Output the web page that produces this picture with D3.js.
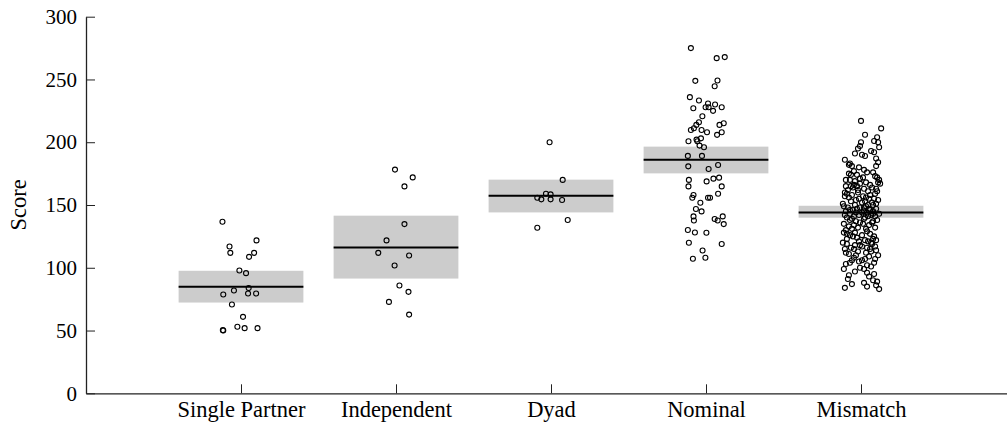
<!DOCTYPE html>
<html>
<head>
<meta charset="utf-8">
<script src="https://cdn.jsdelivr.net/npm/d3@7"></script>
<style>
  html, body { margin: 0; padding: 0; background: #fff; }
  svg { display: block; }
</style>
</head>
<body>
<svg id="chart" width="1007" height="430"></svg>
<script>
// ---------------- data ----------------
const categories = ["Single Partner", "Independent", "Dyad", "Nominal", "Mismatch"];
const yTicks = [0, 50, 100, 150, 200, 250, 300];
const yLabel = "Score";

const means  = [84.8, 116.2, 157.4, 186.1, 144.1];
const ciLow  = [72.3, 91.4, 144.1, 175.2, 139.9];
const ciHigh = [97.6, 141.5, 170.2, 196.5, 149.4];

// points: [score, horizontal jitter fraction (-1..1)]
const singlePartnerPoints = [
  [136.7,-0.92],[121.8,0.77],[117,-0.57],[111.9,-0.53],[111.9,0.65],[108.7,0.4],
  [97.8,-0.08],[95.7,0.25],[83.8,0.38],[81.9,-0.35],[78.7,-0.88],[79.5,0.35],
  [79.5,0.75],[70.7,-0.45],[60.9,0.1],[53,-0.18],[51.9,0.18],[51.9,0.82],
  [50,-0.88],[50.3,-0.9]
];
const independentPoints = [
  [178.2,-0.05],[172,0.83],[164.8,0.42],[134.8,0.42],[121.8,-0.47],[111.9,-0.88],
  [109.8,0.65],[101.8,-0.07],[85.9,0.17],[80.8,0.62],[72.8,-0.35],[62.7,0.65]
];
const dyadPoints = [
  [200,-0.07],[170,0.58],[159,-0.25],[158.5,-0.02],[155.8,-0.68],[154.5,-0.48],
  [154.5,-0.02],[154,0.55],[138,0.83],[131.9,-0.68]
];
const nominalPoints = [
  [275,-0.75],[267,0.53],[267.8,0.93],[248.9,-0.53],[249.2,0.57],[244.6,0.43],[235.9,-0.8],[233.2,-0.35],[230.8,0.1],[230,0.45],
  [227.1,-0.63],[227.9,-0.02],[227.9,0.13],[225,0.35],[227.9,0.78],[220.7,-0.18],[215.9,-0.35],[213.8,-0.48],[211.1,-0.6],[209.8,-0.75],
  [209.8,-0.22],[207.9,0.05],[213.8,0.67],[215.1,0.88],[207.9,0.78],[205.9,0.55],[200.8,-0.87],[202.1,-0.47],[203.1,-0.25],[200.8,-0.43],
  [197.3,-0.32],[196,-0.1],[189.1,-0.9],[189.1,-0.2],[180.8,-0.88],[181.9,0.6],[178.7,0.13],[170,-0.85],[164.8,-0.87],[168.8,0.03],
  [171,0.37],[171.8,0.65],[164.8,0.78],[158,-0.62],[155.8,-0.68],[159,0.6],[155.8,0.1],[155.8,0.2],[151.8,-0.28],[146.8,-0.5],
  [144.9,-0.22],[140.9,-0.62],[137.7,-0.6],[138.8,0.43],[137.7,0.58],[140.9,0.83],[134.8,0.88],[130.1,-0.9],[128.1,-0.55],[127.9,0.02],
  [119.9,-0.85],[118.9,0.78],[113.8,-0.17],[107.2,-0.65],[108,-0.03]
];
const mismatchPoints = [
  [217,0],[211,1],[206,0.2],[204,0.8],[201,0.65],[200,0.85],[200,0],
  [197,-0.05],[196,0.9],[195,-0.15],[193,0.5],[192,0.65],[191,-0.3],[190,0.05],[189,0.2],
  [187,0.75],[186,-0.8],[184,0.85],[183,-0.55],[182,-0.6],[181,-0.45],[180,-0.1],[181,0.75],
  [176,0.3],[175,-0.6],[174,-0.5],[174,-0.2],[173,0.7],[172,0.8],[171,-0.05],[170,-0.55],[170,-0.75],[170,0.9],
  [168,0.85],[167,0.95],[166,-0.35],[165,-0.5],[165,-0.75],[165,-0.2],[164,0.55],[163,0.75],[162,-0.15],[162,-0.65],[161,0.8],[160,-0.8],
  [159,-0.7],[158,0.45],[157,-0.8],[156,0.25],[155,-0.1],[155,0.65],[154,0.85],[153,-0.5],[152,0.55],[152,0.05],[151,-0.9],[150,0.35],[150,-0.3],
  [149,-0.85],[148,-0.65],[148,0.15],[147,0.75],[147,-0.2],[146,0.45],[146,-0.4],[145,0.6],[145,-0.75],[144,0.05],[144,0.3],[143,-0.55],[143,0.9],[142,-0.1],[142,0.5],[141,-0.35],[141,0.7],[140,-0.7],[140,0.2],
  [139,-0.45],[138,0.8],[137,-0.25],[136,-0.05],[136,0.55],[135,-0.85],[134,0.4],[133,-0.6],[132,-0.15],[131,0.25],[130,-0.75],
  [128,-0.85],[127,-0.7],[126,-0.55],[125,0.65],[124,-0.2],[123,0.6],[122,0.2],[121,-0.1],[120,-0.9],[120,0.5],
  [119,-0.7],[118,-0.3],[117,0.05],[117,0.7],[116,-0.5],[115,-0.8],[115,0.45],[114,0.75],[113,-0.15],[112,0.25],[111,-0.6],[110,0.85],
  [108,-0.35],[107,0.2],[106,-0.45],[105,-0.1],[104,0.65],[103,-0.75],[101,0.5],[100,-0.05],
  [99,-0.85],[96,0.3],[94,-0.6],[93,0.4],[91,-0.65],[90,0.6],
  [89,0.8],[88,0.15],[87,-0.45],[86,0.75],[85,0.3],[84,-0.8],[83,0.9],
  [178,0.15],[177,-0.35],[176,0.6],[172,0.1],[169,-0.3],[168,0.25],[167,-0.05],[166,0.45],[164,-0.4],[163,0.15],
  [161,0.35],[160,-0.15],[159,0.7],[158,-0.45],[157,0.1],[156,-0.6],[155,0.4],[154,-0.25],[153,0.2],[151,0.75],
  [150,0.6],[149,0.25],[148,-0.05],[147,0.4],[146,-0.55],[145,0.15],[144,-0.25],[143,0.6],[142,-0.8],[141,0.35],
  [139,0.15],[138,-0.55],[137,0.6],[135,0.1],[134,-0.35],[132,0.7],[131,-0.45],[129,0.3],[128,-0.3],[127,0.45],
  [126,0.05],[125,-0.4],[123,-0.7],[122,0.75],[121,0.35],[119,0.55],[118,-0.05],[116,0.3],[115,-0.35],[113,0.5],
  [112,-0.75],[110,-0.25],[109,0.4],[107,0.7],[106,0.05],[104,-0.55],[102,0.3],[99,0.15],[97,-0.3],[95,0.65]
];
const groupPoints = [singlePartnerPoints, independentPoints, dyadPoints, nominalPoints, mismatchPoints];

// ---------------- layout ----------------
const W = 1007, H = 430;
const margin = { left: 86, top: 16.7, bottom: 36.7 };
const FONT = 21;
const XFONT = 22.5;
const FAMILY = "'Liberation Serif', 'Times New Roman', Times, serif";
const svg = d3.select("#chart");

const x = d3.scalePoint().domain(categories).range([margin.left, 1016]).padding(1);
const y = d3.scaleLinear().domain([0, 300]).range([H - margin.bottom, margin.top]);
const step = x.step();
const boxW = step * 0.805;
const jitterW = step * 0.13;

const groups = categories.map((c, i) => ({
  cat: c, mean: means[i], lo: ciLow[i], hi: ciHigh[i], pts: groupPoints[i]
}));

// CI boxes
svg.append("g").selectAll("rect").data(groups).join("rect")
  .attr("x", d => x(d.cat) - boxW / 2)
  .attr("width", boxW)
  .attr("y", d => y(d.hi))
  .attr("height", d => y(d.lo) - y(d.hi))
  .attr("fill", "#cccccc");

// mean lines
svg.append("g").selectAll("line").data(groups).join("line")
  .attr("x1", d => x(d.cat) - boxW / 2)
  .attr("x2", d => x(d.cat) + boxW / 2)
  .attr("y1", d => y(d.mean))
  .attr("y2", d => y(d.mean))
  .attr("stroke", "#000")
  .attr("stroke-width", 2);

// points
const pts = groups.flatMap(g => g.pts.map(p => ({ cat: g.cat, v: p[0], j: p[1] })));
svg.append("g").selectAll("circle").data(pts).join("circle")
  .attr("cx", d => x(d.cat) + d.j * jitterW)
  .attr("cy", d => y(d.v))
  .attr("r", 2.5)
  .attr("fill", "none")
  .attr("stroke", "#000")
  .attr("stroke-width", 1.1);

// axes
const yAxis = d3.axisLeft(y).tickValues(yTicks).tickSizeInner(-9).tickSizeOuter(0).tickPadding(9);
const gy = svg.append("g").attr("transform", `translate(${margin.left},0)`).call(yAxis);
const xAxis = d3.axisBottom(x).tickSizeInner(-9).tickSizeOuter(0).tickPadding(8);
const gx = svg.append("g").attr("transform", `translate(0,${H - margin.bottom})`).call(xAxis);

[[gx, XFONT], [gy, FONT]].forEach(([g, fs]) => {
  g.attr("font-family", FAMILY).attr("font-size", fs);
  g.select(".domain").attr("stroke", "#222").attr("stroke-width", 1.3);
  g.selectAll(".tick line").attr("stroke", "#222").attr("stroke-width", 1);
  g.selectAll(".tick text").attr("fill", "#000")
    .attr("font-family", FAMILY).attr("font-size", fs);
});

// y label
svg.append("text")
  .attr("transform", `translate(26,${(y(0) + y(300)) / 2}) rotate(-90)`)
  .attr("text-anchor", "middle")
  .attr("font-family", FAMILY)
  .attr("font-size", XFONT)
  .attr("fill", "#000")
  .text(yLabel);
</script>
</body>
</html>
